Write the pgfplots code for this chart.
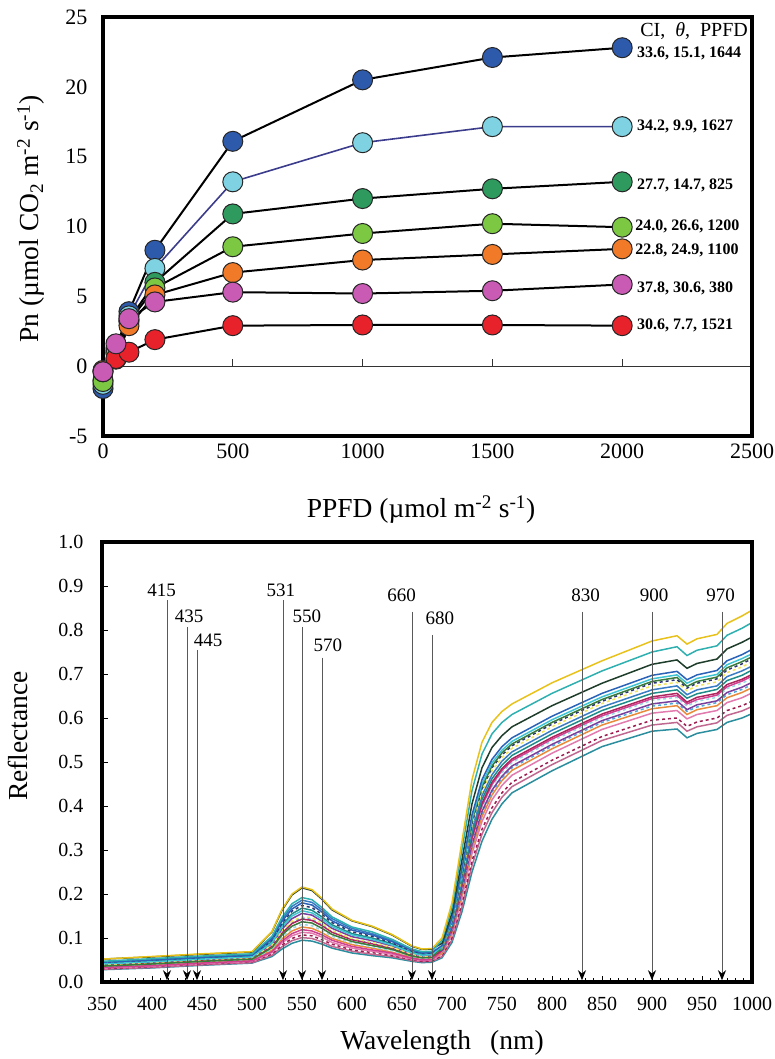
\documentclass[border=0pt]{standalone}
\usepackage{fontspec}
\setmainfont{Liberation Serif}
\usepackage{pgfplots}
\pgfplotsset{compat=1.18}
\usepackage{pgfplotstable}
\usetikzlibrary{arrows.meta}

% marker fills for the light-response curves
\definecolor{cBlue}{HTML}{2E5AAC}
\definecolor{cSky}{HTML}{7FD2E2}
\definecolor{cDGreen}{HTML}{2E9A5E}
\definecolor{cLGreen}{HTML}{7CC843}
\definecolor{cOrange}{HTML}{F07A28}
\definecolor{cMagenta}{HTML}{C95BB5}
\definecolor{cRed}{HTML}{E8222A}
\definecolor{cNavyLine}{HTML}{3C3C8C}

% spectrum colours
\definecolor{s1}{HTML}{E8C21A}
\definecolor{s2}{HTML}{2FB0B0}
\definecolor{s3}{HTML}{1F3D2B}
\definecolor{s4}{HTML}{2A62B8}
\definecolor{s5}{HTML}{3FC4D4}
\definecolor{s6}{HTML}{2E3470}
\definecolor{s7}{HTML}{F2E45C}
\definecolor{s8}{HTML}{3A7CC4}
\definecolor{s9}{HTML}{1E8C88}
\definecolor{s10}{HTML}{B0245E}
\definecolor{s11}{HTML}{9AD8E6}
\definecolor{s12}{HTML}{7A3E9C}
\definecolor{s13}{HTML}{E88A3A}
\definecolor{s14}{HTML}{E27AAE}
\definecolor{s15}{HTML}{9C1C50}
\definecolor{s16}{HTML}{2A8E9E}
\definecolor{s17}{HTML}{3A7A3A}
\definecolor{s18}{HTML}{D04090}
\definecolor{s19}{HTML}{4FA8D8}
\definecolor{s20}{HTML}{C06890}

% canopy reflectance spectra, one column per sample
\pgfplotstableread{
wl   c1   c2   c3   c4   c5   c6   c7   c8   c9   c10  c11  c12  c13  c14  c15  c16  c17  c18  c19  c20
350  .052 .047 .052 .045 .041 .044 .039 .046 .042 .038 .035 .040 .034 .032 .030 .028 .036 .033 .038 .029
400  .058 .053 .057 .050 .046 .049 .044 .052 .048 .042 .040 .045 .039 .036 .035 .032 .041 .037 .043 .033
450  .064 .059 .063 .056 .052 .055 .050 .058 .054 .048 .046 .051 .045 .042 .041 .038 .047 .043 .049 .039
500  .069 .064 .068 .061 .057 .060 .055 .063 .059 .053 .051 .056 .050 .047 .046 .043 .052 .048 .054 .044
520  .115 .104 .114 .098 .089 .095 .084 .101 .092 .081 .075 .087 .072 .067 .064 .058 .078 .069 .082 .061
530  .165 .147 .163 .138 .125 .134 .116 .143 .129 .111 .102 .120 .098 .089 .084 .075 .107 .093 .113 .080
540  .200 .178 .198 .166 .150 .161 .138 .172 .155 .133 .122 .144 .116 .105 .099 .088 .127 .110 .135 .094
550  .216 .192 .214 .180 .162 .174 .149 .186 .168 .143 .131 .156 .125 .113 .107 .095 .137 .119 .146 .101
560  .210 .187 .208 .175 .157 .169 .146 .181 .163 .140 .128 .152 .122 .111 .105 .093 .134 .116 .142 .099
570  .190 .169 .188 .159 .143 .154 .133 .164 .148 .128 .117 .138 .112 .102 .096 .086 .122 .107 .130 .091
580  .166 .148 .164 .139 .126 .135 .117 .144 .130 .113 .104 .122 .099 .090 .086 .077 .108 .095 .114 .081
600  .140 .125 .139 .118 .107 .114 .099 .122 .110 .096 .088 .103 .085 .077 .073 .066 .092 .081 .097 .070
620  .127 .114 .126 .107 .097 .104 .090 .110 .100 .087 .080 .094 .077 .070 .067 .060 .083 .073 .088 .063
640  .108 .097 .107 .092 .084 .089 .079 .095 .087 .076 .071 .082 .068 .063 .060 .055 .074 .066 .077 .058
660  .082 .075 .081 .072 .066 .070 .063 .073 .068 .061 .058 .065 .056 .052 .051 .047 .059 .054 .062 .049
670  .075 .069 .074 .066 .061 .064 .058 .067 .063 .056 .053 .060 .052 .049 .047 .044 .055 .050 .057 .046
680  .076 .070 .075 .067 .062 .065 .059 .068 .064 .057 .054 .061 .053 .050 .048 .045 .056 .051 .058 .047
690  .100 .095 .088 .083 .081 .079 .078 .076 .074 .072 .070 .069 .066 .064 .060 .055 .080 .071 .068 .058
700  .180 .169 .157 .146 .142 .138 .135 .131 .128 .124 .121 .117 .113 .108 .101 .090 .140 .122 .115 .096
710  .320 .301 .278 .259 .253 .245 .240 .234 .227 .221 .214 .208 .200 .192 .179 .160 .248 .218 .205 .171
720  .460 .435 .405 .380 .372 .361 .355 .347 .338 .330 .321 .313 .303 .292 .275 .250 .366 .326 .309 .265
730  .545 .518 .487 .460 .451 .439 .433 .424 .415 .406 .397 .388 .376 .365 .347 .320 .444 .401 .383 .336
740  .590 .564 .533 .506 .498 .487 .480 .471 .462 .454 .445 .436 .425 .414 .396 .370 .491 .449 .432 .385
750  .615 .590 .560 .535 .527 .516 .510 .502 .493 .485 .476 .468 .458 .447 .430 .405 .521 .481 .464 .420
760  .632 .608 .580 .555 .547 .537 .531 .523 .515 .507 .499 .491 .481 .470 .454 .430 .541 .503 .487 .444
800  .680 .656 .628 .604 .596 .586 .580 .572 .564 .556 .548 .540 .530 .520 .504 .480 .590 .552 .536 .494
850  .730 .707 .679 .656 .648 .638 .633 .625 .617 .609 .601 .594 .584 .574 .558 .535 .642 .605 .590 .549
900  .775 .750 .722 .697 .689 .679 .673 .664 .656 .648 .640 .632 .621 .611 .595 .570 .683 .644 .627 .584
925  .787 .762 .732 .706 .698 .687 .681 .673 .664 .656 .647 .639 .628 .617 .600 .575 .692 .651 .634 .590
935  .768 .742 .713 .687 .679 .668 .662 .653 .645 .636 .627 .619 .608 .598 .581 .555 .672 .632 .615 .570
945  .780 .754 .724 .698 .690 .679 .673 .664 .655 .647 .638 .630 .619 .608 .591 .565 .683 .642 .625 .580
965  .790 .764 .734 .708 .699 .689 .682 .673 .665 .656 .647 .639 .628 .617 .600 .574 .693 .652 .635 .589
975  .815 .788 .757 .730 .721 .709 .703 .694 .685 .676 .667 .658 .646 .635 .617 .590 .714 .671 .653 .606
990  .832 .804 .772 .744 .735 .723 .716 .707 .697 .688 .679 .670 .658 .646 .628 .600 .728 .684 .665 .616
1000 .845 .817 .784 .756 .746 .735 .728 .718 .709 .699 .690 .681 .669 .657 .638 .610 .739 .695 .676 .626
}\spectra

\newcommand{\tickfont}{\fontsize{22bp}{26bp}\selectfont}
\newcommand{\ticksmall}{\fontsize{20bp}{24bp}\selectfont}
\newcommand{\titlefont}{\fontsize{27.5bp}{32bp}\selectfont}

\pgfplotsset{
  lrc/.style={black, line width=2bp, mark=*, mark size=10bp,
    mark options={fill=#1, draw=black!85, line width=1bp, solid}},
  spec/.style={#1, line width=1.5bp, no markers},
}

\begin{document}
\begin{tikzpicture}
\useasboundingbox (0,0) rectangle (775bp,-1059bp);

% ---------- light response of net photosynthesis ----------
\begin{axis}[
  at={(103bp,-17bp)}, anchor=north west,
  scale only axis, width=649bp, height=419bp,
  xmin=0, xmax=2500, ymin=-5, ymax=25,
  xtick={0,500,1000,1500,2000,2500},
  ytick={-5,0,5,10,15,20,25},
  major tick length=0pt,
  tick label style={font=\tickfont},
  /pgf/number format/assume math mode=true,
  /pgf/number format/1000 sep={},
  yticklabel style={xshift=-12bp},
  xticklabel style={yshift=-4bp},
  clip=false,
]
% zero line with short upward ticks
\draw[black!80, line width=1.3bp] (axis cs:0,0) -- (axis cs:2500,0);
\draw[black!80, line width=1.3bp] (axis cs:500,0) -- (axis cs:500,0.5);
\draw[black!80, line width=1.3bp] (axis cs:1000,0) -- (axis cs:1000,0.5);
\draw[black!80, line width=1.3bp] (axis cs:1500,0) -- (axis cs:1500,0.5);
\draw[black!80, line width=1.3bp] (axis cs:2000,0) -- (axis cs:2000,0.5);

\addplot[lrc=cBlue] coordinates {(0,-1.6) (50,1.3) (100,3.9) (200,8.3) (500,16.1) (1000,20.5) (1500,22.1) (2000,22.8)};
\addplot[lrc=cSky, color=cNavyLine, line width=1.6bp] coordinates {(0,-1.3) (50,1.1) (100,3.6) (200,7.0) (500,13.2) (1000,16.0) (1500,17.15) (2000,17.15)};
\addplot[lrc=cDGreen] coordinates {(0,-1.0) (50,1.0) (100,3.3) (200,6.0) (500,10.9) (1000,12.0) (1500,12.7) (2000,13.2)};
\addplot[lrc=cLGreen] coordinates {(0,-1.1) (50,0.9) (100,3.2) (200,5.6) (500,8.55) (1000,9.5) (1500,10.2) (2000,9.95)};
\addplot[lrc=cOrange] coordinates {(0,-0.3) (50,0.5) (100,2.9) (200,5.1) (500,6.7) (1000,7.6) (1500,8.0) (2000,8.4)};
\addplot[lrc=cRed] coordinates {(0,-0.4) (50,0.55) (100,1.0) (200,1.9) (500,2.9) (1000,2.95) (1500,2.95) (2000,2.9)};
\addplot[lrc=cMagenta] coordinates {(0,-0.4) (50,1.6) (100,3.4) (200,4.6) (500,5.3) (1000,5.2) (1500,5.4) (2000,5.85)};

\node[anchor=east, font=\fontsize{20bp}{24bp}\selectfont, inner sep=0pt] at (axis cs:2485,24.0) {CI,\ \ {\itshape θ},\ \ PPFD};
\begin{scope}[every node/.style={anchor=west, inner sep=0pt, font=\fontsize{16bp}{19bp}\selectfont\bfseries}]
\node at (axis cs:2057,22.4) {33.6, 15.1, 1644};
\node at (axis cs:2057,17.15) {34.2, 9.9, 1627};
\node at (axis cs:2057,12.95) {27.7, 14.7, 825};
\node at (axis cs:2050,10.0) {24.0, 26.6, 1200};
\node at (axis cs:2050,8.3) {22.8, 24.9, 1100};
\node at (axis cs:2057,5.6) {37.8, 30.6, 380};
\node at (axis cs:2057,2.93) {30.6, 7.7, 1521};
\end{scope}
% heavy frame
\draw[line width=3.2bp] (rel axis cs:0,0) rectangle (rel axis cs:1,1);
\end{axis}

% ---------- reflectance spectra ----------
\begin{axis}[
  at={(102bp,-542bp)}, anchor=north west,
  scale only axis, width=650bp, height=440bp,
  xmin=350, xmax=1000, ymin=0, ymax=1,
  xtick={350,400,...,1000},
  ytick={0,0.1,0.2,0.3,0.4,0.5,0.6,0.7,0.8,0.9,1.0},
  minor x tick num=5,
  xtick pos=left, ytick pos=left,
  tick align=inside,
  major tick length=6bp, minor tick length=4bp,
  tick style={black, line width=1bp},
  tick label style={font=\ticksmall},
  /pgf/number format/assume math mode=true,
  /pgf/number format/1000 sep={},
  yticklabel style={xshift=-15bp, /pgf/number format/.cd, fixed, fixed zerofill, precision=1},
  xticklabel style={yshift=-12bp},
  clip=false,
]
\addplot[spec=s16] table[x=wl, y=c16] {\spectra};
\addplot[spec=s20] table[x=wl, y=c20] {\spectra};
\addplot[spec=s15, dashed] table[x=wl, y=c15] {\spectra};
\addplot[spec=s14] table[x=wl, y=c14] {\spectra};
\addplot[spec=s13] table[x=wl, y=c13] {\spectra};
\addplot[spec=s19, dashed] table[x=wl, y=c19] {\spectra};
\addplot[spec=s12] table[x=wl, y=c12] {\spectra};
\addplot[spec=s11, dashed] table[x=wl, y=c11] {\spectra};
\addplot[spec=s18] table[x=wl, y=c18] {\spectra};
\addplot[spec=s10] table[x=wl, y=c10] {\spectra};
\addplot[spec=s9] table[x=wl, y=c9] {\spectra};
\addplot[spec=s8] table[x=wl, y=c8] {\spectra};
\addplot[spec=s7, dashed] table[x=wl, y=c7] {\spectra};
\addplot[spec=s6, dashed] table[x=wl, y=c6] {\spectra};
\addplot[spec=s17] table[x=wl, y=c17] {\spectra};
\addplot[spec=s5] table[x=wl, y=c5] {\spectra};
\addplot[spec=s4] table[x=wl, y=c4] {\spectra};
\addplot[spec=s3] table[x=wl, y=c3] {\spectra};
\addplot[spec=s2] table[x=wl, y=c2] {\spectra};
\addplot[spec=s1] table[x=wl, y=c1] {\spectra};

% band positions used by the spectral indices
\begin{scope}[black!65, line width=1bp, -{Stealth[length=10bp, width=8bp, color=black]}]
\draw (axis cs:415,0.868) -- (axis cs:415,0.004);
\draw (axis cs:435,0.807) -- (axis cs:435,0.004);
\draw (axis cs:445,0.755) -- (axis cs:445,0.004);
\draw (axis cs:531,0.868) -- (axis cs:531,0.004);
\draw (axis cs:550,0.807) -- (axis cs:550,0.004);
\draw (axis cs:570,0.737) -- (axis cs:570,0.004);
\draw (axis cs:660,0.842) -- (axis cs:660,0.004);
\draw (axis cs:680,0.789) -- (axis cs:680,0.004);
\draw (axis cs:830,0.842) -- (axis cs:830,0.004);
\draw (axis cs:900,0.842) -- (axis cs:900,0.004);
\draw (axis cs:970,0.842) -- (axis cs:970,0.004);
\end{scope}
\begin{scope}[every node/.style={inner sep=0pt, font=\fontsize{19bp}{22bp}\selectfont}]
\node at (axis cs:409.7,0.890) {415};
\node at (axis cs:437,0.832) {435};
\node at (axis cs:456,0.777) {445};
\node at (axis cs:529,0.890) {531};
\node at (axis cs:555,0.832) {550};
\node at (axis cs:576,0.766) {570};
\node at (axis cs:649.7,0.880) {660};
\node at (axis cs:688,0.827) {680};
\node at (axis cs:833.7,0.880) {830};
\node at (axis cs:902,0.880) {900};
\node at (axis cs:968.7,0.880) {970};
\end{scope}
% heavy frame
\draw[line width=3.2bp] (rel axis cs:0,0) rectangle (rel axis cs:1,1);
\end{axis}

% axis titles
\node[rotate=90, font=\titlefont] at (31bp,-219bp) {Pn (µmol CO\textsubscript{2} m\textsuperscript{-2} s\textsuperscript{-1})};
\node[font=\titlefont] at (421bp,-510bp) {PPFD (µmol m\textsuperscript{-2} s\textsuperscript{-1})};
\node[rotate=90, font=\titlefont] at (18bp,-736bp) {Reflectance};
\node[font=\titlefont] at (442bp,-1043bp) {Wavelength\hspace{0.7em}(nm)};
\end{tikzpicture}
\end{document}
